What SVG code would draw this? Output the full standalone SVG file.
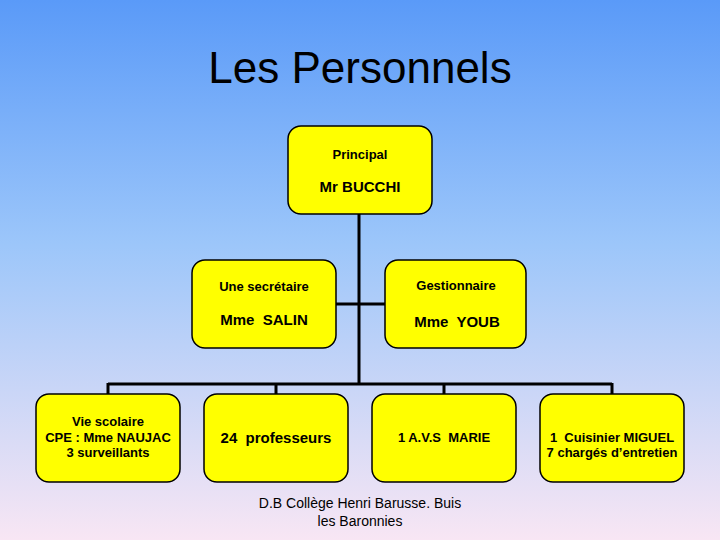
<svg xmlns="http://www.w3.org/2000/svg" width="720" height="540" viewBox="0 0 720 540">
<defs>
<linearGradient id="bg" x1="0" y1="0" x2="0" y2="1">
<stop offset="0" stop-color="#5a9af8"/>
<stop offset="0.45" stop-color="#9cc6fa"/>
<stop offset="1" stop-color="#f8e6f4"/>
</linearGradient>
</defs>
<style>
.box{fill:#ffff00;stroke:#000;stroke-width:1.5}
.t{font-family:"Liberation Sans",Arial,sans-serif;font-size:13px;font-weight:bold;fill:#000;text-anchor:middle;white-space:pre}
.big{font-size:15px}
.c{stroke:#000;stroke-width:3;fill:none}
</style>
<rect x="0" y="0" width="720" height="540" fill="url(#bg)"/>
<text x="360" y="83" font-family="Liberation Sans,Arial,sans-serif" font-size="44" text-anchor="middle" fill="#000">Les Personnels</text>
<g id="connectors">
<path class="c" d="M359 214V384M336 304H385M108 384H612M108 383V394M276 383V394M444 383V394M612 383V394"/>
</g>
<g id="principal"><rect class="box" x="288" y="126" width="144" height="88" rx="13"/>
<text class="t" x="360" y="159">Principal</text><text class="t big" x="360" y="192">Mr BUCCHI</text></g>
<g id="secretaire"><rect class="box" x="192" y="260" width="144" height="88" rx="13"/>
<text class="t" x="264" y="291">Une secrétaire</text><text class="t big" x="264" y="325" xml:space="preserve">Mme  SALIN</text></g>
<g id="gestionnaire"><rect class="box" x="385" y="260" width="141" height="88" rx="13"/>
<text class="t" x="456" y="290">Gestionnaire</text><text class="t big" x="457" y="327" xml:space="preserve">Mme  YOUB</text></g>
<g id="vie-scolaire"><rect class="box" x="36" y="394" width="144" height="88" rx="13"/>
<text class="t" x="108" y="426">Vie scolaire</text><text class="t" x="108" y="442">CPE : Mme NAUJAC</text><text class="t" x="108" y="457">3 surveillants</text></g>
<g id="professeurs"><rect class="box" x="204" y="394" width="144" height="88" rx="13"/>
<text class="t big" x="276" y="443" xml:space="preserve">24  professeurs</text></g>
<g id="avs"><rect class="box" x="372" y="394" width="144" height="88" rx="13"/>
<text class="t" x="444" y="442" xml:space="preserve">1 A.V.S  MARIE</text></g>
<g id="cuisinier"><rect class="box" x="540" y="394" width="144" height="88" rx="13"/>
<text class="t" x="612" y="442" xml:space="preserve">1  Cuisinier MIGUEL</text><text class="t" x="612" y="457">7 chargés d’entretien</text></g>
<text x="360" y="508" font-family="Liberation Sans,Arial,sans-serif" font-size="14" text-anchor="middle">D.B Collège Henri Barusse. Buis</text>
<text x="360" y="526" font-family="Liberation Sans,Arial,sans-serif" font-size="14" text-anchor="middle">les Baronnies</text>
</svg>
